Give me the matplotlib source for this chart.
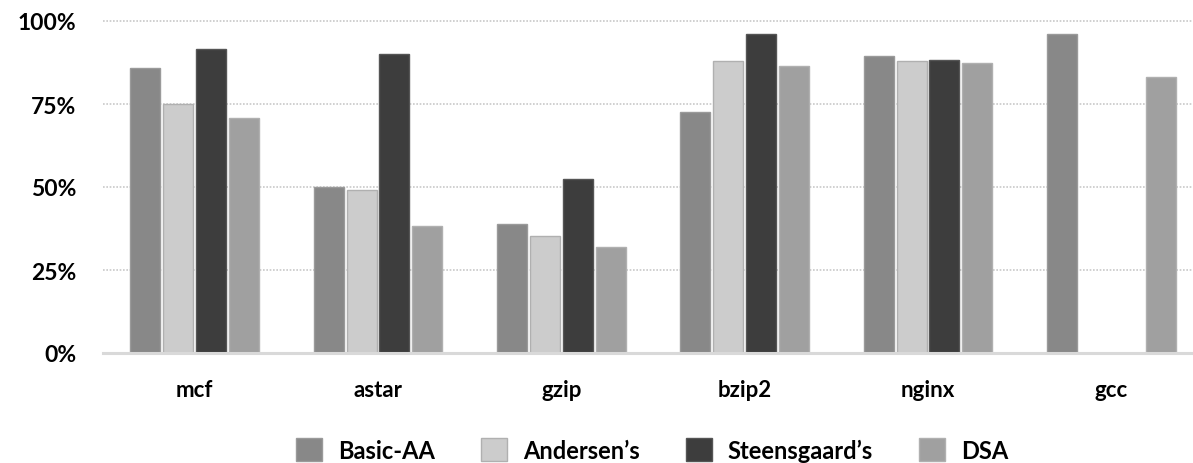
import numpy as np
import matplotlib
matplotlib.use("Agg")
import matplotlib.pyplot as plt
from matplotlib.patches import Patch

plt.rcParams['font.family'] = ['Lato', 'DejaVu Sans']
plt.rcParams['font.weight'] = 'bold'

# data (fractions of 1)
benchmarks = ["mcf", "astar", "gzip", "bzip2", "nginx", "gcc"]
series = ["Basic-AA", "Andersen\u2019s", "Steensgaard\u2019s", "DSA"]
basic_aa = [0.857, 0.501, 0.389, 0.727, 0.896, 0.960]
andersen = [0.750, 0.491, 0.351, 0.879, 0.879, np.nan]
steensgaard = [0.917, 0.901, 0.523, 0.960, 0.884, np.nan]
dsa = [0.708, 0.383, 0.319, 0.863, 0.874, 0.830]
yticks = [0, 0.25, 0.5, 0.75, 1.0]
ytick_labels = ["0%", "25%", "50%", "75%", "100%"]

colors = ["#888888", "#cccccc", "#3d3d3d", "#a0a0a0"]
edges = ["#9a9a9a", "#b0b0b0", "#555555", "#b0b0b0"]

fig = plt.figure(figsize=(11.93, 4.64), dpi=100)
ax = fig.add_axes([103 / 1193, 1 - 354 / 464, 1100 / 1193, 332 / 464])

x = np.arange(len(benchmarks))
pitch = 0.179
width = 0.164
for i, vals in enumerate([basic_aa, andersen, steensgaard, dsa]):
    ax.bar(x + (i - 1.5) * pitch, vals, width, color=colors[i],
           edgecolor=edges[i], linewidth=1, zorder=3)

ax.set_xlim(-0.5, len(benchmarks) - 0.5)
ax.set_ylim(0, 1.0)
ax.set_yticks(yticks)
ax.set_yticklabels(ytick_labels)
ax.set_xticks(x)
ax.set_xticklabels(benchmarks)
ax.tick_params(axis='y', length=0, pad=19, labelsize=16.5)
ax.tick_params(axis='x', length=0, pad=19, labelsize=16)

for s in ax.spines.values():
    s.set_visible(False)
for y in yticks[1:]:
    ax.axhline(y, color="#c8c8c8", linestyle=(0, (1, 1)), linewidth=1.2, zorder=1, clip_on=False)
ax.axhline(0, color="#d9d9d9", linewidth=2.2, zorder=4, clip_on=False)

handles = [Patch(facecolor=colors[i], edgecolor=edges[i], label=series[i]) for i in range(4)]
fig.legend(handles=handles, loc="center", bbox_to_anchor=(652 / 1193, 1 - 451 / 464), ncol=4,
           frameon=False, fontsize=17, handlelength=1.1, handleheight=1.1,
           handletextpad=0.68, columnspacing=1.95, borderpad=0)

fig.savefig("out.png", dpi=100)
